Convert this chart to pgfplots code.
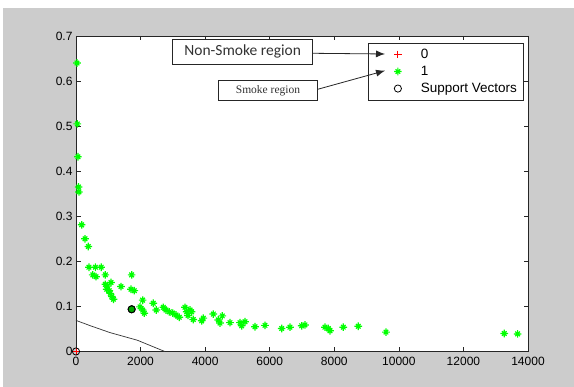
\documentclass[border=0pt]{standalone}
\usepackage{pgfplots}
\pgfplotsset{compat=1.18}
\usepackage{fontspec}
\setmainfont{Liberation Sans}
\newfontfamily\calib{Carlito}
\newfontfamily\serifb{Liberation Serif}
\usetikzlibrary{arrows.meta}
\definecolor{figgray}{RGB}{204,204,204}
\definecolor{mgreen}{RGB}{0,255,0}
\pgfdeclareplotmark{mstar}{%
  \pgfpathmoveto{\pgfqpoint{-\pgfplotmarksize}{0pt}}\pgfpathlineto{\pgfqpoint{\pgfplotmarksize}{0pt}}%
  \pgfpathmoveto{\pgfqpoint{0pt}{-\pgfplotmarksize}}\pgfpathlineto{\pgfqpoint{0pt}{\pgfplotmarksize}}%
  \pgfpathmoveto{\pgfqpoint{-0.6\pgfplotmarksize}{-0.6\pgfplotmarksize}}\pgfpathlineto{\pgfqpoint{0.6\pgfplotmarksize}{0.6\pgfplotmarksize}}%
  \pgfpathmoveto{\pgfqpoint{-0.6\pgfplotmarksize}{0.6\pgfplotmarksize}}\pgfpathlineto{\pgfqpoint{0.6\pgfplotmarksize}{-0.6\pgfplotmarksize}}%
  \pgfusepathqstroke}
\pgfplotstableread{
x y
30 0.640
40 0.505
60 0.432
80 0.365
90 0.354
176 0.281
279 0.250
382 0.233
400 0.187
600 0.187
780 0.187
520 0.170
620 0.166
908 0.170
1724 0.170
908 0.149
980 0.145
1084 0.153
950 0.138
1032 0.135
1060 0.129
1110 0.122
1160 0.116
1394 0.144
1703 0.138
1806 0.135
2065 0.114
1982 0.099
2065 0.092
2116 0.085
2394 0.107
2487 0.092
2704 0.098
2787 0.092
2890 0.088
2994 0.085
3097 0.081
3199 0.076
3375 0.098
3428 0.088
3530 0.092
3583 0.088
3470 0.080
3633 0.071
3893 0.068
3942 0.074
4252 0.083
4407 0.070
4459 0.063
4531 0.079
4769 0.064
5079 0.064
5131 0.057
5234 0.066
5543 0.055
5853 0.058
6370 0.051
6627 0.054
6990 0.057
7092 0.059
7711 0.054
7815 0.051
7866 0.046
8278 0.054
8743 0.056
9601 0.043
13264 0.040
13679 0.039
}\smoke
\begin{document}
\begin{tikzpicture}[x=1pt,y=1pt]
\fill[white] (0,0) rectangle (574,387);
\fill[figgray] (3,0) rectangle (574,379);
\begin{axis}[
  at={(76pt,35.5pt)}, anchor=south west,
  scale only axis, width=452pt, height=315.5pt,
  xmin=0, xmax=14000, ymin=0, ymax=0.7,
  xtick={0,2000,...,14000},
  xticklabels={0,2000,4000,6000,8000,10000,12000,14000},
  scaled x ticks=false,
  ytick={0,0.1,...,0.7},
  yticklabels={0,0.1,0.2,0.3,0.4,0.5,0.6,0.7},
  /pgf/number format/1000 sep={},
  /pgf/number format/assume math mode=true,
  tick align=inside, major tick length=4.5pt,
  axis line style={line width=0.8pt, black!85},
  every tick/.style={black!85, line width=0.7pt},
  tick label style={font=\fontsize{12}{12}\selectfont, text=black},
  xticklabel style={yshift=-2pt},
  yticklabel style={xshift=0pt},
  axis background/.style={fill=white},
  clip=false,
  legend style={at={(1,1)}, anchor=north east, xshift=-4.7pt, yshift=-6.7pt,
    draw=black!85, line width=0.7pt, fill=white, inner xsep=4pt, inner ysep=3pt,
    font=\fontsize{13.5}{13.5}\selectfont, cells={anchor=west},
    nodes={text height=10pt, text depth=3pt, inner ysep=2pt}, row sep=0pt},
  legend image code/.code={\path[draw=none,fill=none] (-26pt,-6pt) rectangle (21pt,6pt); \draw[#1] plot coordinates {(0pt,0pt)};},
]
\addplot[black!80, line width=0.7pt, forget plot] coordinates {(0,0.069) (450,0.057) (1050,0.042) (1900,0.025) (2750,0)};
\addplot[only marks, mark=+, red, mark size=3.8pt, line width=0.8pt] coordinates {(0,0)};
\addlegendentry{0}
\addplot[only marks, mark=mstar, mgreen, mark size=3.8pt, line width=1.2pt] table[x=x,y=y] {\smoke};
\addlegendentry{1}
\addplot[only marks, mark=*, mark size=3.6pt, mark options={fill=green!65!black, draw=black, line width=0.8pt}, forget plot] coordinates {(1724,0.0937)};
\addplot[only marks, mark=o, black, mark size=3.6pt, line width=0.8pt] coordinates {(0,0) (1724,0.0937)};
\addlegendentry{Support Vectors}
\end{axis}
\draw[line width=0.8pt, draw=black!85, fill=white] (172.7,347.7) rectangle (312.7,322.7);
\node[font=\calib\fontsize{15.5}{15.5}\selectfont, text=black!80] at (242.7,335.2) {Non-Smoke region};
\draw[-{Latex[length=9pt,width=7pt]}, line width=0.8pt, black!85] (312.7,333.7) -- (385,333);
\draw[line width=0.8pt, draw=black!85, fill=white] (218.3,306.3) rectangle (317.7,287);
\node[font=\serifb\fontsize{11.5}{11.5}\selectfont, text=black!80] at (268,296.7) {Smoke region};
\draw[-{Latex[length=9pt,width=7pt]}, line width=0.8pt, black!85] (317.7,297.7) -- (385,316.3);
\end{tikzpicture}
\end{document}
